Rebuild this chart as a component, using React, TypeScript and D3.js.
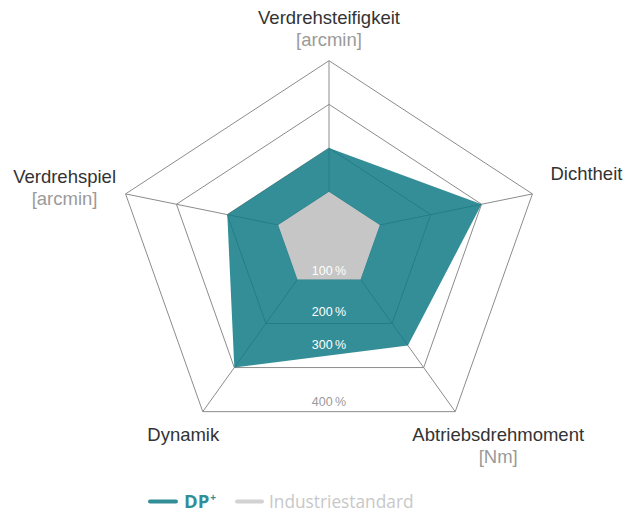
import React, { useEffect, useRef } from 'react';
import * as d3 from 'd3';

// axes, clockwise from the top
const axes = ['Verdrehsteifigkeit', 'Dichtheit', 'Abtriebsdrehmoment', 'Dynamik', 'Verdrehspiel'];
const units = ['[arcmin]', '', '[Nm]', '', '[arcmin]'];

// values in % of the industry standard
const dpPlus = [200, 300, 250, 300, 200];
const industrie = [100, 100, 100, 100, 100];

const levels = [100, 200, 300, 400];
const levelLabels = ['100\u202F%', '200\u202F%', '300\u202F%', '400\u202F%'];

const seriesNames = ['DP', 'Industriestandard'];

const RadarChart = () => {
  const ref = useRef<SVGSVGElement | null>(null);

  useEffect(() => {
    if (!ref.current) return;
    const width = 641;
    const height = 512;
    const cx = 329;
    const cy = 235.3;
    const font = "'Liberation Sans', Arial, sans-serif";

    // the pentagon in the picture is stretched, so each axis has its own direction
    const dirs: [number, number][] = [
      [0, -1],
      [1.165, -0.237],
      [0.723, 1.01],
      [-0.723, 1.01],
      [-1.165, -0.237],
    ];

    const r = d3.scaleLinear().domain([0, 400]).range([0, 174.6]);
    const pt = (i: number, v: number): [number, number] => [cx + dirs[i][0] * r(v), cy + dirs[i][1] * r(v)];

    const poly = d3.line<[number, number]>().curve(d3.curveLinearClosed);

    const svg = d3.select(ref.current);
    svg.selectAll('*').remove();
    svg.attr('width', width).attr('height', height);

    // grid
    const grid = svg.append('g');
    grid.selectAll('.level')
      .data(levels)
      .enter().append('path')
      .attr('d', d => poly(axes.map((_, i) => pt(i, d))))
      .style('fill', 'none')
      .style('stroke', '#8c8c8c')
      .style('stroke-width', 1);

    grid.selectAll('.spoke')
      .data(axes)
      .enter().append('line')
      .attr('x1', cx).attr('y1', cy)
      .attr('x2', (d, i) => pt(i, 400)[0])
      .attr('y2', (d, i) => pt(i, 400)[1])
      .style('stroke', '#8c8c8c')
      .style('stroke-width', 1);

    // series
    svg.append('path')
      .attr('d', poly(dpPlus.map((v, i) => pt(i, v))))
      .style('fill', 'rgb(17,122,134)')
      .style('fill-opacity', 0.85);

    svg.append('path')
      .attr('d', poly(industrie.map((v, i) => pt(i, v))))
      .style('fill', '#c5c6c5');

    // level labels on the bottom side
    const labelShift = [-8, -11, -23, -10];
    svg.selectAll('.lvl-label')
      .data(levels)
      .enter().append('text')
      .attr('x', cx)
      .attr('y', (d, i) => cy + dirs[2][1] * r(d) + labelShift[i])
      .attr('text-anchor', 'middle')
      .attr('dominant-baseline', 'central')
      .style('font-family', font)
      .style('font-size', '12.5px')
      .style('fill', (d, i) => (i < 3 ? '#ffffff' : '#9a9a9a'))
      .text((d, i) => levelLabels[i]);

    // axis labels
    const labelPos: { dx: number; dy: number; anchor: string }[] = [
      { dx: 0, dy: -37, anchor: 'middle' },
      { dx: 54, dy: -14, anchor: 'middle' },
      { dx: 43, dy: 29.5, anchor: 'middle' },
      { dx: -19.5, dy: 29.5, anchor: 'middle' },
      { dx: -61, dy: -11, anchor: 'middle' },
    ];
    const lab = svg.selectAll('.axis-label')
      .data(axes)
      .enter().append('text')
      .attr('x', (d, i) => pt(i, 400)[0] + labelPos[i].dx)
      .attr('y', (d, i) => pt(i, 400)[1] + labelPos[i].dy)
      .attr('text-anchor', (d, i) => labelPos[i].anchor)
      .style('font-family', font)
      .style('font-size', '18.5px');
    lab.append('tspan')
      .style('fill', '#333333')
      .text(d => d);
    lab.append('tspan')
      .attr('x', (d, i) => pt(i, 400)[0] + labelPos[i].dx)
      .attr('dy', 22)
      .style('fill', '#9a9a9a')
      .text((d, i) => units[i]);

    // legend
    const lg = svg.append('g').attr('transform', 'translate(0,501.5)');
    const legendFont = "'Open Sans', 'Noto Sans', sans-serif";
    lg.append('line')
      .attr('x1', 150).attr('x2', 176).attr('y1', 0).attr('y2', 0)
      .style('stroke', '#338d97').style('stroke-width', 4).style('stroke-linecap', 'round');
    const dp = lg.append('text')
      .attr('x', 184).attr('y', 6.5)
      .style('font-family', legendFont)
      .style('font-weight', 700)
      .style('font-size', '18.5px')
      .style('fill', '#338d97');
    dp.append('tspan').text(seriesNames[0]);
    dp.append('tspan').attr('dx', 1).attr('dy', -7).style('font-size', '10px').text('+');
    lg.append('line')
      .attr('x1', 237).attr('x2', 262).attr('y1', 0).attr('y2', 0)
      .style('stroke', '#d2d2d2').style('stroke-width', 4).style('stroke-linecap', 'round');
    lg.append('text')
      .attr('x', 269).attr('y', 6.5)
      .style('font-family', legendFont)
      .style('font-size', '17.3px')
      .style('fill', '#c8c8c8')
      .text(seriesNames[1]);
  }, []);

  return <svg ref={ref} style={{ position: 'absolute', left: 0, top: 0 }}></svg>;
};

export default function App() {
  return <RadarChart />;
}
